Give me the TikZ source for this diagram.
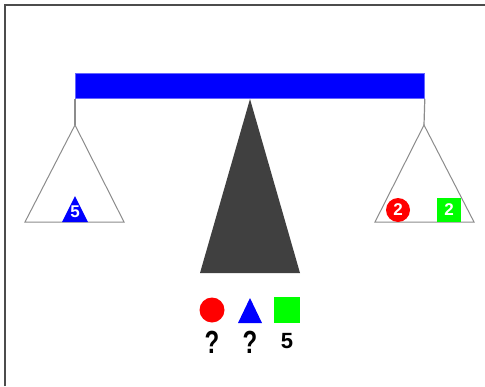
\documentclass[tikz,border=0pt]{standalone}
\usepackage{fontspec}
\setmainfont{Liberation Sans}
\begin{document}
\begin{tikzpicture}[x=1pt,y=-1pt,
  pan/.style={draw=gray!90, line width=1pt, fill=white},
  hanger/.style={draw=gray!90, line width=1.2pt},
  lbl/.style={font=\fontsize{17}{18}\selectfont\bfseries, text=white, inner sep=0pt},
  qtext/.style={font=\fontsize{32}{34}\selectfont\bfseries, text=black, inner sep=0pt},
  vtext/.style={font=\fontsize{22}{24}\selectfont\bfseries, text=black, inner sep=0pt}]
\useasboundingbox (0,0) rectangle (485,386);
\fill[white] (0,0) rectangle (485,386);
\draw[gray!60!black, line width=1.5pt] (5,386) -- (5,5) -- (485,5);
% beam
\node[draw=blue!60, fill=blue, line width=0.8pt, minimum width=349pt, minimum height=25pt, inner sep=0pt, anchor=north west] (beam) at (75,73) {};
% fulcrum
\fill[black!75] (250,99) -- (300,273) -- (200,273) -- cycle;
% hangers
\coordinate (lh) at (75,125);
\coordinate (rh) at (424,125);
\draw[hanger] (beam.south west) -- (lh);
\draw[hanger] (beam.south east) -- (rh);
% pans
\draw[pan] (lh) -- (124,222) -- (25,222) -- cycle;
\draw[pan] (rh) -- (474,222) -- (375,222) -- cycle;
% left pan content
\fill[blue] (75,196) -- (88,222) -- (62,222) -- cycle;
\node[lbl] (l5) at (75,211.5) {5};
% right pan content
\fill[red] (398,210) circle (12);
\node[lbl] (r2a) at (398,210) {2};
\fill[green] (437,198) rectangle (461,222);
\node[lbl] (r2b) at (449,210) {2};
% legend
\fill[red] (212,310) circle (12.5);
\fill[blue] (250,298) -- (262,323) -- (238,323) -- cycle;
\fill[green] (274,297) rectangle (300,323);
\node[qtext] (q1) at (212,342) {\scalebox{0.75}[1]{?}};
\node[qtext] (q2) at (250,342) {\scalebox{0.75}[1]{?}};
\node[vtext] (v5) at (287,341) {5};
\end{tikzpicture}
\end{document}
